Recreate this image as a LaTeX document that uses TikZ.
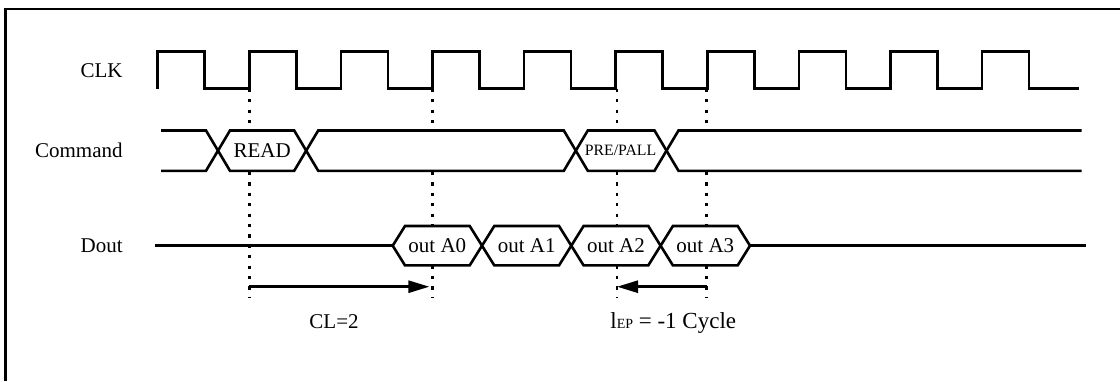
\documentclass[tikz,border=0pt]{standalone}
\usepackage{fontspec}
\setmainfont{Liberation Serif}
\usetikzlibrary{arrows.meta,positioning}

\begin{document}
\begin{tikzpicture}[x=0.5pt,y=-0.5pt]

    \tikzstyle{sig} = [line width=1.3pt, line join=miter]

    \tikzstyle{bus} = [sig, fill=white]

    \tikzstyle{dots} = [line width=1.3pt, dash pattern=on 1.6pt off 3.6pt]

    \tikzstyle{txt} = [font=\fontsize{10.5}{12}\selectfont, inner sep=0pt]

    \tikzstyle{side} = [txt, anchor=east]

    \tikzstyle{span} = [line width=1.3pt, -{Triangle[length=10.5pt,width=6pt]}]

    \useasboundingbox (0,0) rectangle (1120,381);
    \draw[line width=1.15pt] (5.5,381) -- (5.5,9) -- (1120,9);

    % signal names
    \node [side] (clk) at (123,70.2) {CLK};
    \node [side] (cmd) at (123,150.65) {Command};
    \node [side] (dout) at (123,245.7) {Dout};

    % reference edges
    \coordinate (e1) at (249.3,88.7);
    \coordinate (e2) at (432.4,88.7);
    \coordinate (e3) at (617,88.7);
    \coordinate (e4) at (706.5,88.7);
    \coordinate (f1) at (249.3,297);
    \coordinate (f2) at (432.4,297);
    \coordinate (f3) at (617,297);
    \coordinate (f4) at (706.5,297);
    \draw [dots] (e1) -- (f1);
    \draw [dots] (e2) -- (f2);
    \draw [dots] (e3) -- (f3);
    \draw [dots] (e4) -- (f4);

    % clock
    \draw [sig] (157.7,88.7)
      \foreach \k in {0,...,9} {
        -- ({157.7+91.6*\k},88.7) -- ({157.7+91.6*\k},51.7)
        -- ({204.7+91.6*\k},51.7) -- ({204.7+91.6*\k},88.7)
      } -- (1078.7,88.7);

    % command bus
    \draw [bus] (161,130.5) -- (206,130.5) -- (218,150.65) -- (206,170.8) -- (161,170.8);
    \draw [bus] (218,150.65) -- (230,130.5) -- (294.2,130.5) -- (306.2,150.65)
      -- (294.2,170.8) -- (230,170.8) -- cycle;
    \draw [bus] (306.2,150.65) -- (318.2,130.5) -- (563.8,130.5) -- (575.8,150.65)
      -- (563.8,170.8) -- (318.2,170.8) -- cycle;
    \draw [bus] (575.8,150.65) -- (587.8,130.5) -- (654.5,130.5) -- (666.5,150.65)
      -- (654.5,170.8) -- (587.8,170.8) -- cycle;
    \draw [bus] (1081.7,130.5) -- (678.5,130.5) -- (666.5,150.65) -- (678.5,170.8) -- (1081.7,170.8);
    \node [txt] (rd) at (262.2,150.65) {READ};
    \node [txt, font=\fontsize{7.9}{9}\selectfont] (pre) at (620.5,150.65) {PRE/PALL};

    % data out
    \draw [sig] (155,245.7) -- (392.7,245.7);
    \draw [bus] (392.7,245.7) -- (405,226) -- (469.7,226) -- (482,245.7)
      -- (469.7,265.4) -- (405,265.4) -- cycle;
    \draw [bus] (482,245.7) -- (494.3,226) -- (559,226) -- (571.3,245.7)
      -- (559,265.4) -- (494.3,265.4) -- cycle;
    \draw [bus] (571.3,245.7) -- (583.6,226) -- (648.3,226) -- (660.6,245.7)
      -- (648.3,265.4) -- (583.6,265.4) -- cycle;
    \draw [bus] (660.6,245.7) -- (672.9,226) -- (737.7,226) -- (750,245.7)
      -- (737.7,265.4) -- (672.9,265.4) -- cycle;
    \draw [sig] (750,245.7) -- (1086,245.7);
    \node [txt] (a0) at (437.3,245.7) {out A0};
    \node [txt] (a1) at (526.7,245.7) {out A1};
    \node [txt] (a2) at (616,245.7) {out A2};
    \node [txt] (a3) at (705.3,245.7) {out A3};

    % latencies
    \coordinate (cl1) at (249.3,286.7);
    \coordinate (cl2) at (432.4,286.7);
    \coordinate (ep1) at (706.5,286.7);
    \coordinate (ep2) at (617,286.7);
    \draw [span, shorten >=1.5pt] (cl1) -- (cl2);
    \draw [span] (ep1) -- (ep2);
    \node [txt, anchor=base] (cl) at (334,328.6) {CL=2};
    \node [txt, anchor=base west, font=\fontsize{11.5}{13}\selectfont] (ep) at (610,328.6)
      {l{\fontsize{7}{8}\selectfont EP} = -1 Cycle};

\end{tikzpicture}
\end{document}
